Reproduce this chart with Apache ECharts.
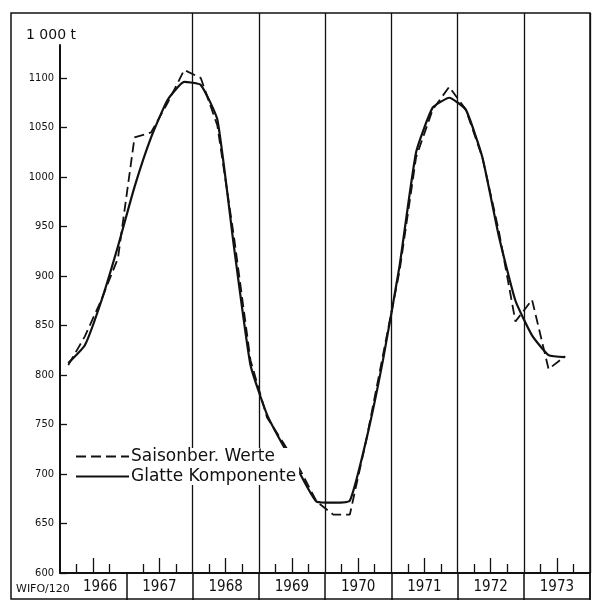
<!DOCTYPE html>
<html><head><meta charset="utf-8">
<script src="https://cdn.jsdelivr.net/npm/echarts@6/dist/echarts.min.js"></script>
<style>html,body{margin:0;background:#fff}#c{width:600px;height:600px}</style>
</head><body><div id="c"></div>
<script>
// ---- data ----
const years = [1966, 1967, 1968, 1969, 1970, 1971, 1972, 1973];
const quarterNames = ['I', 'II', 'III', 'IV'];
// quarterly values (1000 t), 1966 I .. 1973 III
const saisonberWerte = [
  810, 839, 876, 918,
  1040, 1045, 1075, 1108,
  1100, 1052, 940, 815,
  757, 731, 704, 672,
  659, 659, 735, 820,
  905, 1020, 1068, 1091,
  1068, 1020, 945, 854,
  876, 806, 819
];
const glatteKomponente = [
  812, 830, 875, 930,
  990, 1040, 1078, 1096,
  1093, 1058, 930, 810,
  760, 728, 700, 672,
  671, 673, 735, 815,
  910, 1025, 1070, 1080,
  1068, 1020, 940, 875,
  840, 820, 818
];
const yTicks = [600, 650, 700, 750, 800, 850, 900, 950, 1000, 1050, 1100];
const yUnit = '1 000 t';
const source = 'WIFO/120';
const seriesNames = ['Saisonber. Werte', 'Glatte Komponente'];

// ---- positions on the time axis (quarter midpoints) ----
const periods = [];
years.forEach(y => quarterNames.forEach((q, i) => periods.push({ year: y, q: i })));
const tOf = p => p.year + (p.q + 0.5) / 4;
const toPairs = vals => vals.map((v, i) => [tOf(periods[i]), v]);

const yearEnd = years[years.length - 1] + 1;
const boundaries = years.map(y => y + 1);
const mids = years.map(y => y + 0.5);
const quarterTicks = [];
years.forEach(y => { quarterTicks.push(y + 0.25, y + 0.75); });

const INK = '#111';
const NUMFONT = 'DejaVu Sans Condensed, DejaVu Sans';
const chart = echarts.init(document.getElementById('c'), null, { renderer: 'canvas' });
chart.setOption({
  backgroundColor: '#fff',
  animation: false,
  title: {
    text: yUnit, left: 21, top: 23,
    textStyle: { fontSize: 14, fontWeight: 'normal', color: INK, fontFamily: 'DejaVu Sans' }
  },
  legend: {
    data: seriesNames,
    orient: 'vertical', left: 75, top: 448,
    itemWidth: 53, itemHeight: 16, itemGap: 3,
    backgroundColor: '#fff', padding: [0, 3, 0, 0],
    itemStyle: { opacity: 0 },
    textStyle: { fontSize: 17, color: INK, fontFamily: 'DejaVu Sans', lineHeight: 16, padding: [0, 0, 0, -3] }
  },
  grid: [
    { left: 60, right: 10, top: 13, bottom: 27 },
    { left: 60, right: 10, top: 45, bottom: 27 }
  ],
  xAxis: [
    {
      gridIndex: 0, type: 'value', min: years[0], max: yearEnd, interval: 1,
      axisLine: { show: true, lineStyle: { color: INK, width: 2 } },
      axisTick: { show: true, inside: false, length: 27, customValues: boundaries, lineStyle: { color: INK, width: 1.5 } },
      axisLabel: { show: false },
      splitLine: { show: true, showMinLine: false, showMaxLine: true, lineStyle: { color: INK, width: 1.3 } }
    },
    {
      gridIndex: 1, type: 'value', min: years[0], max: yearEnd,
      axisLine: { show: false },
      axisTick: { show: true, inside: true, length: 9, customValues: quarterTicks, lineStyle: { color: INK, width: 1.3 } },
      axisLabel: { show: false },
      splitLine: { show: false }
    },
    {
      gridIndex: 1, type: 'value', min: years[0], max: yearEnd, position: 'bottom',
      axisLine: { show: false },
      axisTick: { show: true, inside: true, length: 15, customValues: mids, lineStyle: { color: INK, width: 1.3 } },
      axisLabel: {
        show: true, customValues: mids, margin: 7,
        formatter: v => {
          const y = Math.floor(v);
          return y === years[0] ? '{f|' + y + '}' : String(y);
        },
        rich: { f: { padding: [0, 0, 0, 14], fontSize: 15, color: INK, fontFamily: NUMFONT } },
        fontSize: 15, color: INK, fontFamily: NUMFONT
      },
      splitLine: { show: false }
    }
  ],
  yAxis: [
    { gridIndex: 0, type: 'value', min: 0, max: 1, show: false },
    {
      gridIndex: 1, type: 'value', min: 600, max: 1133.3,
      axisLine: { show: true, lineStyle: { color: INK, width: 2 } },
      axisTick: { show: true, inside: true, length: 7, customValues: yTicks, lineStyle: { color: INK, width: 1.3 } },
      axisLabel: {
        show: true, customValues: yTicks, margin: 6, fontSize: 11, color: INK, fontFamily: NUMFONT,
        formatter: v => String(Math.round(v))
      },
      splitLine: { show: false }
    }
  ],
  series: [
    {
      name: seriesNames[0], type: 'line', xAxisIndex: 1, yAxisIndex: 1,
      data: toPairs(saisonberWerte), symbol: 'none',
      lineStyle: { color: INK, width: 1.8, type: [10, 5] }, itemStyle: { color: INK }, z: 3
    },
    {
      name: seriesNames[1], type: 'line', xAxisIndex: 1, yAxisIndex: 1,
      data: toPairs(glatteKomponente), symbol: 'none', smooth: 0.15,
      lineStyle: { color: INK, width: 2.2 }, itemStyle: { color: INK }, z: 3
    }
  ],
  graphic: [
    { type: 'rect', shape: { x: 11, y: 13, width: 579, height: 586 }, style: { fill: 'none', stroke: INK, lineWidth: 1.5 }, z: 1 },
    { type: 'text', x: 16, y: 584, style: { text: source, fontSize: 11, fill: INK, fontFamily: 'DejaVu Sans' } }
  ]
});
</script></body></html>
